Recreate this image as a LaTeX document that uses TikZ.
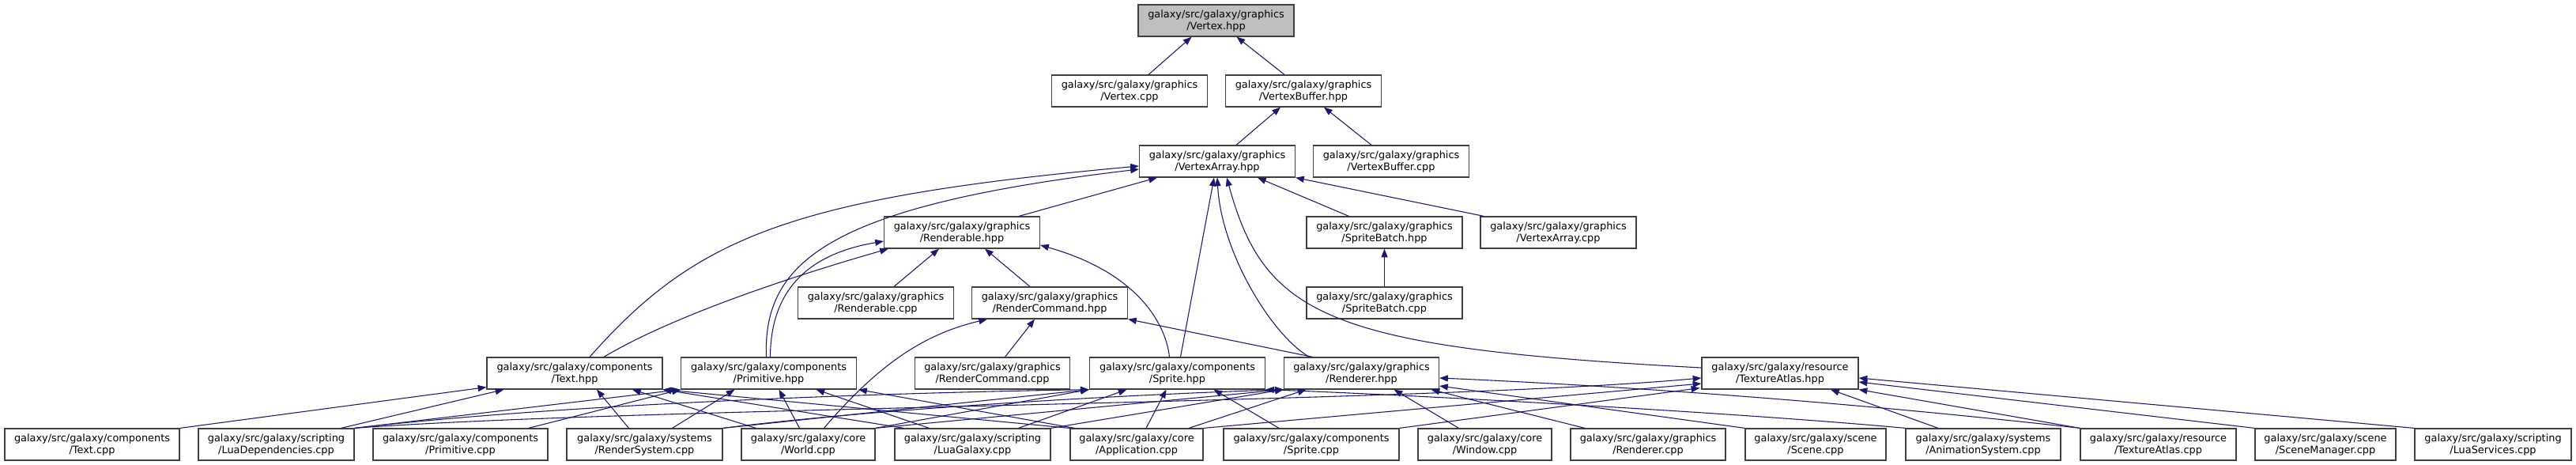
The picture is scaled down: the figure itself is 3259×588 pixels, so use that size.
\documentclass[tikz,border=0pt]{standalone}
\usepackage{fontspec}
\setmainfont{DejaVu Sans}
\usetikzlibrary{arrows.meta, calc}

\definecolor{edgeblue}{HTML}{191970}
\definecolor{boxline}{HTML}{404040}
\definecolor{rootfill}{HTML}{BFBFBF}
\newcommand{\pxu}{0.0262cm}

\tikzset{
  file/.style={draw=boxline, line width=0.9pt, fill=white, align=center, inner sep=0pt,
    minimum height=40*\pxu, font=\fontsize{9.6}{11.2}\selectfont},
  fw/.style={minimum width=#1*\pxu},
  incl/.style={draw=edgeblue, line width=0.8pt, -{Triangle[length=8pt,width=6pt]}},
}

\begin{document}
\begin{tikzpicture}[x=0.0262cm, y=-0.0262cm]
    \useasboundingbox (0,0) rectangle (3259,588);

    % upper part of the graph
    \node[file, fw=197, fill=rootfill] (vtxhpp) at (1538.5,26) {galaxy/src/galaxy/graphics\\/Vertex.hpp};
    \node[file, fw=197] (vtxcpp) at (1429,115) {galaxy/src/galaxy/graphics\\/Vertex.cpp};
    \node[file, fw=197] (vbufhpp) at (1649,115) {galaxy/src/galaxy/graphics\\/VertexBuffer.hpp};
    \node[file, fw=197] (varrhpp) at (1540,204) {galaxy/src/galaxy/graphics\\/VertexArray.hpp};
    \node[file, fw=197] (vbufcpp) at (1760,204) {galaxy/src/galaxy/graphics\\/VertexBuffer.cpp};
    \node[file, fw=197] (rblhpp) at (1217,294) {galaxy/src/galaxy/graphics\\/Renderable.hpp};
    \node[file, fw=197] (sbhpp) at (1751.5,294) {galaxy/src/galaxy/graphics\\/SpriteBatch.hpp};
    \node[file, fw=197] (varrcpp) at (1971.5,294) {galaxy/src/galaxy/graphics\\/VertexArray.cpp};
    \node[file, fw=197] (rblcpp) at (1108,383) {galaxy/src/galaxy/graphics\\/Renderable.cpp};
    \node[file, fw=197] (rcmdhpp) at (1328,383) {galaxy/src/galaxy/graphics\\/RenderCommand.hpp};
    \node[file, fw=197] (sbcpp) at (1751.5,383) {galaxy/src/galaxy/graphics\\/SpriteBatch.cpp};

    % middle row
    \node[file, fw=222] (texthpp) at (727,472) {galaxy/src/galaxy/components\\/Text.hpp};
    \node[file, fw=222] (primhpp) at (972.5,472) {galaxy/src/galaxy/components\\/Primitive.hpp};
    \node[file, fw=196] (rcmdcpp) at (1255.5,472) {galaxy/src/galaxy/graphics\\/RenderCommand.cpp};
    \node[file, fw=222] (sprhpp) at (1489.5,472) {galaxy/src/galaxy/components\\/Sprite.hpp};
    \node[file, fw=196] (rndhpp) at (1722.5,472) {galaxy/src/galaxy/graphics\\/Renderer.hpp};
    \node[file, fw=198] (tahpp) at (2252,472) {galaxy/src/galaxy/resource\\/TextureAtlas.hpp};

    % bottom row
    \node[file, fw=221] (textcpp) at (116.5,562) {galaxy/src/galaxy/components\\/Text.cpp};
    \node[file, fw=197] (luadep) at (349.5,562) {galaxy/src/galaxy/scripting\\/LuaDependencies.cpp};
    \node[file, fw=221] (primcpp) at (582.5,562) {galaxy/src/galaxy/components\\/Primitive.cpp};
    \node[file, fw=197] (rsys) at (815.5,562) {galaxy/src/galaxy/systems\\/RenderSystem.cpp};
    \node[file, fw=169] (world) at (1022.5,562) {galaxy/src/galaxy/core\\/World.cpp};
    \node[file, fw=197] (luagal) at (1230.5,562) {galaxy/src/galaxy/scripting\\/LuaGalaxy.cpp};
    \node[file, fw=168] (app) at (1438,562) {galaxy/src/galaxy/core\\/Application.cpp};
    \node[file, fw=222] (sprcpp) at (1659,562) {galaxy/src/galaxy/components\\/Sprite.cpp};
    \node[file, fw=169] (window) at (1878.5,562) {galaxy/src/galaxy/core\\/Window.cpp};
    \node[file, fw=196] (rndcpp) at (2085,562) {galaxy/src/galaxy/graphics\\/Renderer.cpp};
    \node[file, fw=178] (scene) at (2297,562) {galaxy/src/galaxy/scene\\/Scene.cpp};
    \node[file, fw=196] (anim) at (2509,562) {galaxy/src/galaxy/systems\\/AnimationSystem.cpp};
    \node[file, fw=197] (tacpp) at (2730.5,562) {galaxy/src/galaxy/resource\\/TextureAtlas.cpp};
    \node[file, fw=178] (scnmgr) at (2942,562) {galaxy/src/galaxy/scene\\/SceneManager.cpp};
    \node[file, fw=198] (luasvc) at (3154,562) {galaxy/src/galaxy/scripting\\/LuaServices.cpp};

    % includes, upper part
    \draw[incl] ($(vtxcpp.north)+(24,0)$) -- ($(vtxhpp.south)+(-31,0)$);
    \draw[incl] ($(vbufhpp.north)+(-24,0)$) -- ($(vtxhpp.south)+(26,0)$);
    \draw[incl] ($(varrhpp.north)+(24,0)$) -- ($(vbufhpp.south)+(-29,0)$);
    \draw[incl] ($(vbufcpp.north)+(-25,0)$) -- ($(vbufhpp.south)+(26,0)$);
    \draw[incl] ($(rblhpp.north)+(72,0)$) -- ($(varrhpp.south)+(-76,0)$);
    \draw[incl] ($(sbhpp.north)+(-45,0)$) -- ($(varrhpp.south)+(51,0)$);
    \draw[incl] ($(varrcpp.north west)+(5,0)$) -- (varrhpp.south east);
    \draw[incl] (sbcpp) -- (sbhpp);
    \draw[incl] ($(rblcpp.north)+(23,0)$) -- ($(rblhpp.south)+(-29,0)$);
    \draw[incl] ($(rcmdhpp.north)+(-25,0)$) -- ($(rblhpp.south)+(29,0)$);
    \draw[incl] ($(rcmdcpp.north)+(16,0)$) -- ($(rcmdhpp.south)+(-19,0)$);
    \draw[incl] ($(world.north)+(20,0)$) .. controls (1120,450) and (1180,420) .. ($(rcmdhpp.south)+(-79,0)$);
    \draw[incl] ($(rndhpp.north)+(-62,0)$) -- (rcmdhpp.south east);
    \draw[incl] ($(sprhpp.north)+(-10,0)$) .. controls (1475,410) and (1440,345) .. ($(rblhpp.east)+(0,16)$);
    \draw[incl] ($(sprhpp.north)+(4,0)$) -- ($(varrhpp.south)+(-4,0)$);
    \draw[incl] ($(rndhpp.north)+(-66,0)$) .. controls (1610,425) and (1545,320) .. (varrhpp.south);
    \draw[incl] ($(tahpp.west)+(0,-7)$) .. controls (1680,440) and (1600,400) .. ($(varrhpp.south)+(12,0)$);
    \draw[incl] ($(texthpp.north)+(19,0)$) .. controls (880,300) and (1000,250) .. ($(varrhpp.west)+(0,6)$);
    \draw[incl] ($(primhpp.north)+(-3,0)$) .. controls (965,330) and (1050,260) .. ($(varrhpp.west)+(0,10)$);
    \draw[incl] ($(texthpp.north)+(37,0)$) .. controls (850,400) and (1000,350) .. ($(rblhpp.south west)+(6,0)$);
    \draw[incl] ($(primhpp.north)+(2,0)$) .. controls (975,360) and (1030,320) .. ($(rblhpp.west)+(0,11)$);

    % includes, bottom row
    \draw[incl] (textcpp.north east) -- ($(texthpp.south west)+(0,-3)$);
    \draw[incl] ($(luadep.north)+(82,0)$) -- ($(texthpp.south west)+(22,0)$);
    \draw[incl] ($(rsys.north)+(-20,0)$) -- ($(texthpp.south)+(28,0)$);
    \draw[incl] ($(world.north west)+(19,0)$) -- ($(texthpp.south)+(73,0)$);
    \draw[incl] ($(luagal.north west)+(12,0)$) -- (texthpp.south east);
    \draw[incl] (app.north west) -- (texthpp.south east);

    \draw[incl] ($(primcpp.north east)+(-25,0)$) -- (primhpp.south west);
    \draw[incl] (luadep.north east) -- (primhpp.south west);
    \draw[incl] ($(rsys.north)+(35,0)$) -- ($(primhpp.south)+(-43,0)$);
    \draw[incl] ($(world.north)+(-11,0)$) -- ($(primhpp.south)+(13,0)$);
    \draw[incl] ($(luagal.north)+(-55,0)$) -- ($(primhpp.south)+(60,0)$);
    \draw[incl] ($(app.north west)+(6,0)$) -- ($(primhpp.south east)+(2,0)$);

    \draw[incl] (luadep.north east) .. controls (700,512) and (1100,497) .. (sprhpp.south west);
    \draw[incl] (rsys.north east) -- (sprhpp.south west);
    \draw[incl] (world.north east) -- (sprhpp.south west);
    \draw[incl] ($(luagal.north)+(58,0)$) -- ($(sprhpp.south)+(-64,0)$);
    \draw[incl] ($(app.north)+(12,0)$) -- ($(sprhpp.south)+(-14,0)$);
    \draw[incl] ($(sprcpp.north)+(-41,0)$) -- ($(sprhpp.south)+(46,0)$);
    \draw[incl] (anim.north west) .. controls (2200,522) and (1800,500) .. (sprhpp.south east);

    \draw[incl] (rsys.north east) .. controls (1100,518) and (1400,500) .. (rndhpp.south west);
    \draw[incl] (world.north east) -- (rndhpp.south west);
    \draw[incl] (luagal.north east) -- (rndhpp.south west);
    \draw[incl] ($(app.north)+(66,0)$) -- ($(rndhpp.south)+(-70,0)$);
    \draw[incl] ($(window.north)+(-33,0)$) -- ($(rndhpp.south)+(41,0)$);
    \draw[incl] ($(rndcpp.north)+(-80,0)$) -- ($(rndhpp.south)+(88,0)$);
    \draw[incl] (scene.north west) -- ($(rndhpp.east)+(0,16)$);
    \draw[incl] (tacpp.north west) .. controls (2400,515) and (2100,490) .. ($(rndhpp.east)+(0,6)$);

    \draw[incl] (luadep.north east) .. controls (800,515) and (1800,510) .. ($(tahpp.west)+(0,6)$);
    \draw[incl] (app.north east) -- ($(tahpp.west)+(0,13)$);
    \draw[incl] (sprcpp.north east) -- ($(tahpp.south west)+(-2,-2)$);
    \draw[incl] ($(anim.north)+(-57,0)$) -- ($(tahpp.south)+(64,0)$);
    \draw[incl] (tacpp.north west) -- (tahpp.south east);
    \draw[incl] (scnmgr.north west) -- ($(tahpp.east)+(0,11)$);
    \draw[incl] (luasvc.north west) -- ($(tahpp.east)+(0,6)$);
\end{tikzpicture}
\end{document}
